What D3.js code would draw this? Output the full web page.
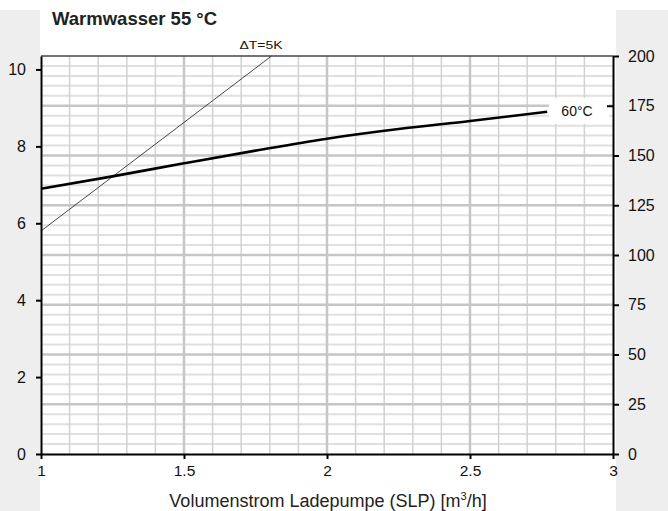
<!DOCTYPE html>
<html><head><meta charset="utf-8">
<script src="https://cdn.jsdelivr.net/npm/d3@7"></script>
<style>html,body{margin:0;padding:0;background:#fff;}svg{display:block;font-family:"Liberation Sans",Arial,sans-serif;}</style>
</head><body>
<script>
// ---- data ----
const flowValues = [1.0, 1.25, 1.5, 1.75, 2.0, 2.25, 2.5, 2.77];
const power60 = [6.9, 7.22, 7.56, 7.89, 8.2, 8.45, 8.66, 8.9];
const dtFlow = [1.0, 1.806];
const dtPower = [5.8, 10.35];
const xTicks = [1, 1.5, 2, 2.5, 3];
const xTickLabels = ["1", "1.5", "2", "2.5", "3"];
const leftTicks = [0, 2, 4, 6, 8, 10];
const rightTicks = [0, 25, 50, 75, 100, 125, 150, 175, 200];
const titleText = "Warmwasser 55 °C";
const curveLabel = "60°C";
const dtLabel = "ΔT=5K";

const W = 668, H = 511;
const svg = d3.select("body").append("svg").attr("width", W).attr("height", H);

// backgrounds
svg.append("rect").attr("x", 0).attr("y", 10).attr("width", W).attr("height", H - 10).attr("fill", "#eeeeee");
svg.append("rect").attr("x", 40).attr("y", 10).attr("width", 576).attr("height", H - 10).attr("fill", "#ffffff");

const x = d3.scaleLinear().domain([1, 3]).range([41, 613]);
const yL = d3.scaleLinear().domain([0, 10.35]).range([454, 56]);
const yR = d3.scaleLinear().domain([0, 200]).range([454, 56]);

// grid
const g = svg.append("g");
const vMinor = d3.range(11, 30).map(d => d / 10).filter(d => Math.abs(d * 2 - Math.round(d * 2)) > 1e-6);
const vMajor = [1.5, 2, 2.5];
const hMinor = d3.range(5, 200, 5).filter(d => d % 25 !== 0);
const hMajor = d3.range(25, 200, 25);
g.selectAll(".hmin").data(hMinor).join("line")
  .attr("x1", x(1)).attr("x2", x(3)).attr("y1", d => yR(d)).attr("y2", d => yR(d))
  .attr("stroke", "#e0e0e0").attr("stroke-width", 2);
g.selectAll(".vmin").data(vMinor).join("line")
  .attr("x1", d => x(d)).attr("x2", d => x(d)).attr("y1", yR(0)).attr("y2", yR(200))
  .attr("stroke", "#d2d2d2").attr("stroke-width", 1.5);
g.selectAll(".hmaj").data(hMajor).join("line")
  .attr("x1", x(1)).attr("x2", x(3)).attr("y1", d => yR(d)).attr("y2", d => yR(d))
  .attr("stroke", "#c6c6c6").attr("stroke-width", 2.5);
g.selectAll(".vmaj").data(vMajor).join("line")
  .attr("x1", d => x(d)).attr("x2", d => x(d)).attr("y1", yR(0)).attr("y2", yR(200))
  .attr("stroke", "#c6c6c6").attr("stroke-width", 2.5);

// top frame
svg.append("line").attr("x1", x(1)).attr("x2", x(3)).attr("y1", yR(200)).attr("y2", yR(200))
  .attr("stroke", "#444").attr("stroke-width", 1.5);

// delta T line
const dtData = dtFlow.map((f, i) => [f, dtPower[i]]);
svg.append("path").datum(dtData)
  .attr("d", d3.line().x(d => x(d[0])).y(d => yL(d[1])))
  .attr("fill", "none").attr("stroke", "#333").attr("stroke-width", 0.9);

// 60°C curve
const c60 = flowValues.map((f, i) => [f, power60[i]]);
svg.append("path").datum(c60)
  .attr("d", d3.line().curve(d3.curveMonotoneX).x(d => x(d[0])).y(d => yL(d[1])))
  .attr("fill", "none").attr("stroke", "#000").attr("stroke-width", 2.6);

// label box
svg.append("rect").attr("x", x(2.776)).attr("y", 98).attr("width", 60).attr("height", 26).attr("fill", "#fff");
svg.append("text").attr("x", 577).attr("y", 116).attr("text-anchor", "middle")
  .attr("font-size", 14).attr("fill", "#111").text(curveLabel);

// axes
const axL = d3.axisLeft(yL).tickValues(leftTicks).tickSize(5).tickPadding(10).tickFormat(d3.format("d"));
const axR = d3.axisRight(yR).tickValues(rightTicks).tickSize(6).tickPadding(9).tickFormat(d3.format("d"));
const axB = d3.axisBottom(x).tickValues(xTicks).tickSize(5).tickPadding(6).tickFormat((d, i) => xTickLabels[i]);

function style(sel, fs) {
  sel.select(".domain").attr("stroke", "#000").attr("stroke-width", 2);
  sel.selectAll(".tick line").attr("stroke", "#000").attr("stroke-width", 2);
  sel.selectAll(".tick text").attr("font-size", fs).attr("fill", "#111").attr("font-family", "Liberation Sans, Arial, sans-serif");
}
const gL = svg.append("g").attr("transform", `translate(${x(1)},0)`).call(axL.tickSizeOuter(0));
style(gL, 16);
const gR = svg.append("g").attr("transform", `translate(${x(3)},0)`).call(axR.tickSizeOuter(0));
style(gR, 16);
gR.selectAll(".tick").filter(d => d === 175).select("line").attr("x2", -6);
const gB = svg.append("g").attr("transform", `translate(0,${yR(0)})`).call(axB.tickSizeOuter(0));
style(gB, 15.5);

// texts
svg.append("text").attr("x", 52).attr("y", 25).attr("font-size", 18.5).attr("font-weight", "bold")
  .attr("fill", "#222").text(titleText);
svg.append("text").attr("x", 239.5).attr("y", 49).attr("font-size", 11)
  .attr("textLength", 43).attr("lengthAdjust", "spacingAndGlyphs").attr("fill", "#111").text(dtLabel);
const xl = svg.append("text").attr("x", 328).attr("y", 506.5).attr("text-anchor", "middle")
  .attr("font-size", 18).attr("fill", "#222");
xl.append("tspan").text("Volumenstrom Ladepumpe (SLP) [m");
xl.append("tspan").attr("font-size", 11).attr("dy", -7).text("3");
xl.append("tspan").attr("dy", 7).text("/h]");
</script>
</body></html>
